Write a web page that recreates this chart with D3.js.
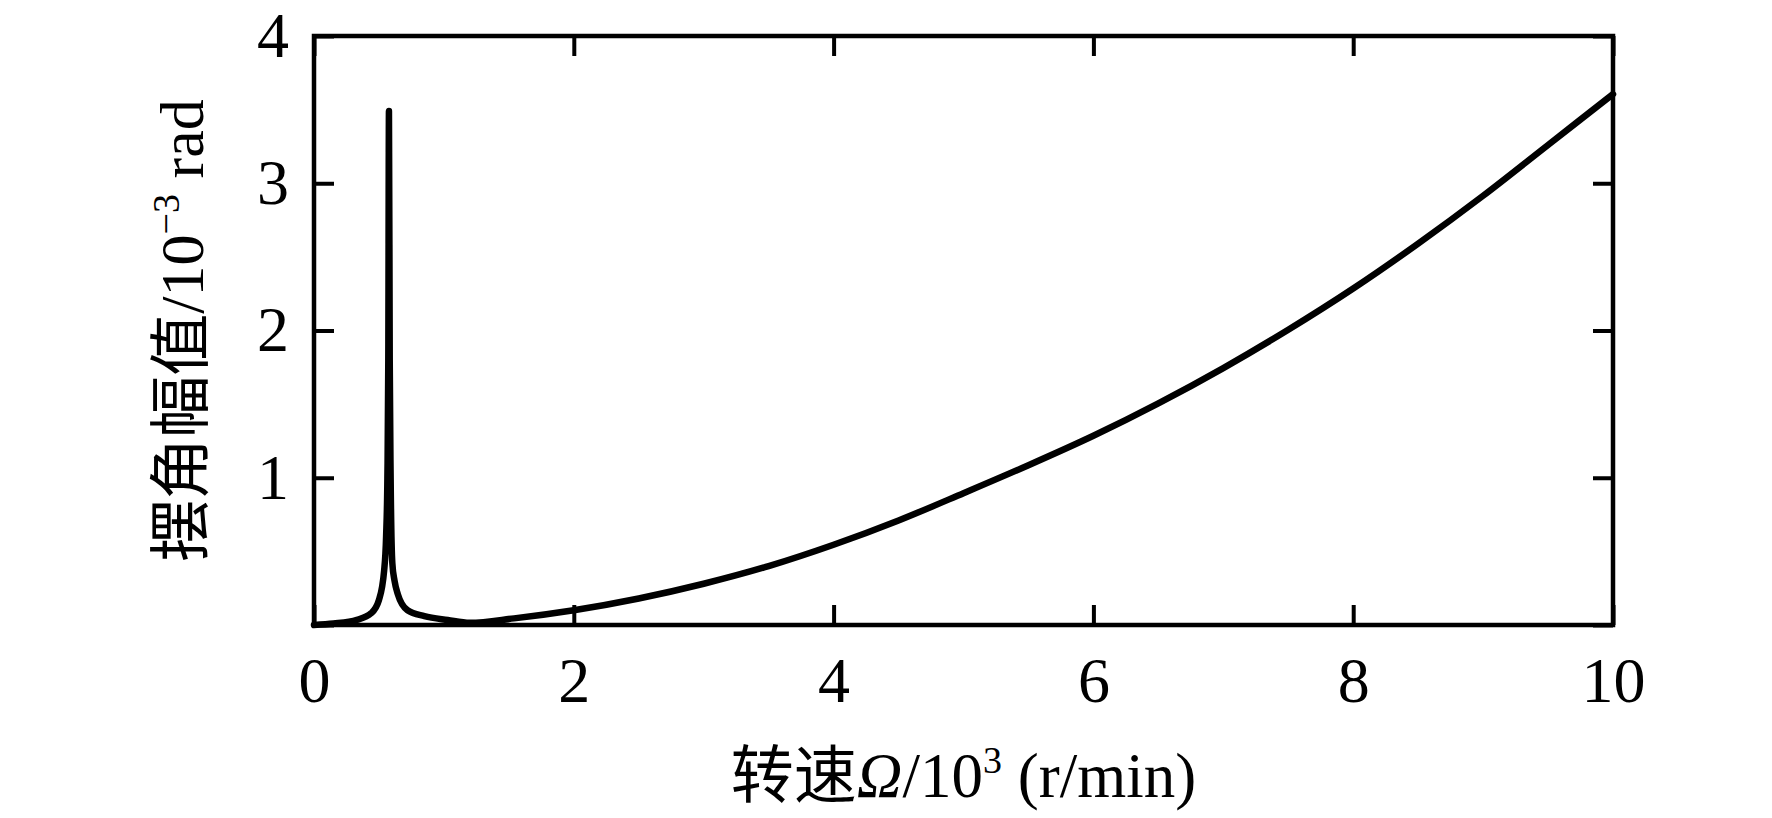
<!DOCTYPE html>
<html>
<head>
<meta charset="utf-8">
<script src="https://cdn.jsdelivr.net/npm/d3@7"></script>
<style>
  body { margin: 0; background: #fff; }
  text { font-family: "Liberation Serif", "Noto Sans CJK SC", serif; fill: #000; }
</style>
</head>
<body>
<div id="chart"></div>
<script>
// rotating speed, 10^3 r/min
var speed = [0, 0.15, 0.33, 0.44, 0.5, 0.54, 0.555, 0.565, 0.572, 0.577, 0.583, 0.59, 0.603,
             0.62, 0.645, 0.72, 0.85, 1.03, 1.2, 1.54, 2.0, 2.5, 3.0, 3.5, 4.0, 4.5, 5.0,
             5.5, 6.0, 6.5, 7.0, 7.5, 8.0, 8.5, 9.0, 9.5, 10.0];
// swing angle amplitude, 10^-3 rad
var amplitude = [0, 0.01, 0.035, 0.08, 0.17, 0.37, 0.6, 1.0, 1.8, 3.49, 1.8, 1.0, 0.42,
                 0.3, 0.21, 0.1, 0.06, 0.034, 0.015, 0.045, 0.1, 0.18, 0.28, 0.4, 0.545, 0.71, 0.895,
                 1.085, 1.285, 1.505, 1.745, 2.005, 2.285, 2.59, 2.915, 3.26, 3.605];

var xTicks = [0, 2, 4, 6, 8, 10];
var yTicks = [0, 1, 2, 3, 4];
var yLabelTicks = [1, 2, 3, 4];

function init() {
    var w = 1772, h = 818;
    var left = 314, right = 1613, top = 36, bottom = 625;

    var svg = d3.select("#chart").append("svg")
                .attr("width", w)
                .attr("height", h);

    var x = d3.scaleLinear().domain([0, 10]).range([left, right]);
    var y = d3.scaleLinear().domain([0, 4]).range([bottom, top]);

    var data = speed.map(function(s, i) { return { s: s, a: amplitude[i] }; });

    //curve
    var line = d3.line()
                 .x(function(d) { return x(d.s); })
                 .y(function(d) { return y(d.a); })
                 .curve(d3.curveMonotoneX);

    svg.append("path")
       .datum(data)
       .attr("d", line)
       .attr("fill", "none")
       .attr("stroke", "#000")
       .attr("stroke-width", 6.5)
       .attr("stroke-linejoin", "round")
       .attr("stroke-linecap", "round");

    //axes with inward ticks
    var bottomAxis = svg.append("g")
        .attr("transform", "translate(0," + bottom + ")")
        .call(d3.axisBottom(x).tickValues(xTicks).tickSize(-20).tickPadding(32));
    var topAxis = svg.append("g")
        .attr("transform", "translate(0," + top + ")")
        .call(d3.axisTop(x).tickValues(xTicks).tickSize(-20).tickFormat(""));
    var leftAxis = svg.append("g")
        .attr("transform", "translate(" + left + ",0)")
        .call(d3.axisLeft(y).tickValues(yTicks).tickSize(-20).tickPadding(25)
              .tickFormat(function(d) { return yLabelTicks.indexOf(d) >= 0 ? d : ""; }));
    var rightAxis = svg.append("g")
        .attr("transform", "translate(" + right + ",0)")
        .call(d3.axisRight(y).tickValues(yTicks).tickSize(-20).tickFormat(""));

    [bottomAxis, topAxis, leftAxis, rightAxis].forEach(function(g) {
        g.select(".domain").remove();
        g.selectAll("line").attr("stroke", "#000").attr("stroke-width", 4);
        g.selectAll("text")
         .style("font-family", '"Liberation Serif", serif')
         .style("font-size", "64px")
         .attr("fill", "#000");
    });

    //frame
    svg.append("rect")
       .attr("x", left)
       .attr("y", top)
       .attr("width", right - left)
       .attr("height", bottom - top)
       .attr("fill", "none")
       .attr("stroke", "#000")
       .attr("stroke-width", 4.5);

    //x title
    var xt = svg.append("text")
        .attr("x", (left + right) / 2)
        .attr("y", 797)
        .attr("text-anchor", "middle")
        .style("font-size", "63px");
    xt.append("tspan").text("转速");
    xt.append("tspan").style("font-style", "italic").text("Ω");
    xt.append("tspan").text("/10");
    xt.append("tspan").attr("dy", -24).style("font-size", "38px").text("3");
    xt.append("tspan").attr("dy", 24).text(" (r/min)");

    //y title
    var yt = svg.append("text")
        .attr("transform", "translate(203," + ((top + bottom) / 2) + ") rotate(-90)")
        .attr("text-anchor", "middle")
        .style("font-size", "62px");
    yt.append("tspan").text("摆角幅值");
    yt.append("tspan").text("/10");
    yt.append("tspan").attr("dy", -24).style("font-size", "38px").text("−3");
    yt.append("tspan").attr("dy", 24).text(" rad");
}

window.onload = init;
</script>
</body>
</html>
